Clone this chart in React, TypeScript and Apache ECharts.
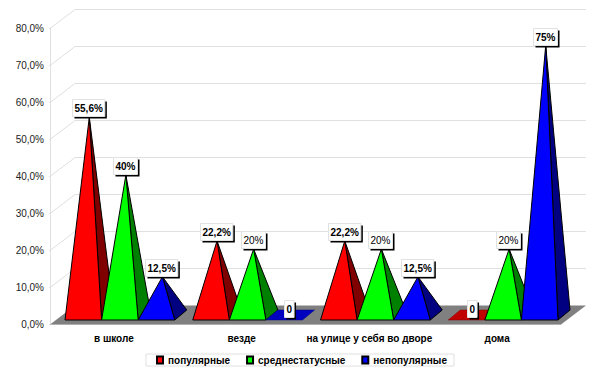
import React, { useEffect, useRef } from "react";
import * as echarts from "echarts";

const categories = ["в школе", "везде", "на улице у себя во дворе", "дома"];
const popular = [55.6, 22.2, 22.2, 0];
const average = [40, 20, 20, 20];
const unpopular = [12.5, 0, 12.5, 75];
const popularLabels = ["55,6%", "22,2%", "22,2%", "0"];
const averageLabels = ["40%", "20%", "20%", "20%"];
const unpopularLabels = ["12,5%", "0", "12,5%", "75%"];
const yTicks = [0, 10, 20, 30, 40, 50, 60, 70, 80];
const FONT = '"Liberation Sans", Arial, sans-serif';

function textWidth(text: string, font: string) {
  const ctx = document.createElement("canvas").getContext("2d")!;
  ctx.font = font;
  return ctx.measureText(text).width;
}

function pyramidSeries(
  name: string,
  values: number[],
  labels: string[],
  slot: number,
  front: string,
  side: string,
  flat: string
) {
  return {
    type: "custom",
    name,
    itemStyle: { color: front, borderColor: "#000", borderWidth: 1 },
    data: values.map((v, i) => [i, v, labels[i]]),
    encode: { x: 0, y: 1 },
    renderItem: (params: any, api: any) => {
      const band = api.size([1, 0])[0];
      const cat = api.value(0);
      const value = api.value(1);
      const label = labels[params.dataIndex];
      const center = api.coord([cat, 0])[0];
      const zeroY = api.coord([cat, 0])[1];
      const barW = (band - 18) / 3;
      const x0 = center - band / 2 + 15 + slot * barW;
      const x1 = x0 + barW;
      const baseY = zeroY - 4;
      const apexY = api.coord([cat, value])[1] - 1;
      const apexX = (x0 + x1) / 2 + 6;
      const dx = 12;
      const dy = -10;
      const children: any[] = [];
      if (value > 0) {
        children.push({
          type: "polygon",
          shape: { points: [[x1, baseY], [x1 + dx, baseY + dy], [apexX, apexY]] },
          style: { fill: side, stroke: "#000", lineWidth: 1 },
        });
        children.push({
          type: "polygon",
          shape: { points: [[x0, baseY], [x1, baseY], [apexX, apexY]] },
          style: { fill: front, stroke: "#000", lineWidth: 1 },
        });
      } else {
        children.push({
          type: "polygon",
          shape: {
            points: [[x0, baseY], [x1, baseY], [x1 + dx, baseY + dy], [x0 + dx, baseY + dy]],
          },
          style: { fill: flat, stroke: side, lineWidth: 0.5 },
        });
      }
      const weight = label === "20%" ? "normal" : "bold";
      const font = `${weight} 10px ${FONT}`;
      const w = textWidth(label, font) + 4;
      const h = 17;
      const bottom = Math.min(apexY - 1, baseY - 3);
      const bx = Math.round(apexX - w / 2 - 1) + 0.5;
      const by = Math.round(bottom - h) + 0.5;
      children.push({
        type: "rect",
        z2: 100,
        shape: { x: bx + 2, y: by + 2, width: w, height: h },
        style: { fill: "#000" },
      });
      children.push({
        type: "rect",
        z2: 101,
        shape: { x: bx, y: by, width: w, height: h },
        style: { fill: "#fff", stroke: "#e2e2e2", lineWidth: 1 },
      });
      children.push({
        type: "text",
        z2: 102,
        style: {
          x: bx + w / 2,
          y: by + h / 2 + 0.5,
          text: label,
          font,
          fill: "#000",
          align: "center",
          verticalAlign: "middle",
        },
      });
      return { type: "group", children };
    },
  };
}

const chromeSeries = {
  type: "custom",
  name: "chrome",
  silent: true,
  z: 1,
  data: yTicks.map((t) => [0, t]),
  encode: { x: 0, y: 1 },
  renderItem: (params: any, api: any) => {
    const cs = params.coordSys;
    const depthX = 25;
    const depthY = -19;
    const y = api.coord([0, api.value(1)])[1] + 0.5;
    const left = cs.x;
    const right = cs.x + cs.width;
    const lineStyle = { stroke: "#e0e0e0", lineWidth: 1, fill: "none" };
    const children: any[] = [];
    if (api.value(1) > 0) {
      children.push({
        type: "line",
        shape: { x1: left + depthX, y1: y + depthY, x2: right + depthX, y2: y + depthY },
        style: lineStyle,
      });
      children.push({
        type: "line",
        shape: { x1: left, y1: y, x2: left + depthX, y2: y + depthY },
        style: lineStyle,
      });
    } else {
      children.push({
        type: "polygon",
        z2: 5,
        shape: {
          points: [[left, y], [right, y], [right + depthX, y + depthY], [left + depthX, y + depthY]],
        },
        style: { fill: "#808080" },
      });
    }
    return { type: "group", children };
  },
};

export default function App() {
  const ref = useRef<HTMLDivElement>(null);
  useEffect(() => {
    const chart = echarts.init(ref.current!, undefined, { renderer: "svg" });
    chart.setOption({
      animation: false,
      backgroundColor: "#fff",
      grid: { left: 50, right: 39, top: 28, bottom: 49, containLabel: false },
      xAxis: {
        type: "category",
        data: categories,
        axisLine: { lineStyle: { color: "#e0e0e0" } },
        axisTick: { length: 5, lineStyle: { color: "#e0e0e0" } },
        axisLabel: {
          margin: 9,
          fontFamily: FONT,
          fontSize: 10,
          fontWeight: "bold",
          color: "#000",
          interval: 0,
        },
        splitLine: { show: false },
      },
      yAxis: {
        type: "value",
        min: 0,
        max: 80,
        interval: 10,
        axisLine: { show: true, lineStyle: { color: "#e0e0e0" } },
        axisTick: { show: true, length: 1, lineStyle: { color: "#e0e0e0" } },
        axisLabel: {
          margin: 6,
          fontFamily: FONT,
          fontSize: 10,
          color: "#222",
          formatter: (v: number) => v.toFixed(1).replace(".", ",") + "%",
        },
        splitLine: { show: false },
      },
      legend: {
        show: true,
        left: 146,
        top: 354,
        padding: [1, 7, 1, 10],
        orient: "horizontal",
        borderColor: "#e0e0e0",
        borderWidth: 1,
        icon: "rect",
        itemWidth: 6,
        itemHeight: 7,
        itemGap: 16,
        data: ["популярные", "среднестатусные", "непопулярные"],
        textStyle: { fontFamily: FONT, fontSize: 10, fontWeight: "bold", color: "#000" },
      },
      series: [
        chromeSeries,
        pyramidSeries("популярные", popular, popularLabels, 0, "#ff0000", "#800000", "#c00000"),
        pyramidSeries("среднестатусные", average, averageLabels, 1, "#00ff00", "#008000", "#00c000"),
        pyramidSeries("непопулярные", unpopular, unpopularLabels, 2, "#0000ff", "#000080", "#0000c0"),
      ],
    });
    return () => chart.dispose();
  }, []);
  return (
    <div
      ref={ref}
      style={{ position: "absolute", left: 0, top: 0, width: 600, height: 373 }}
    />
  );
}
